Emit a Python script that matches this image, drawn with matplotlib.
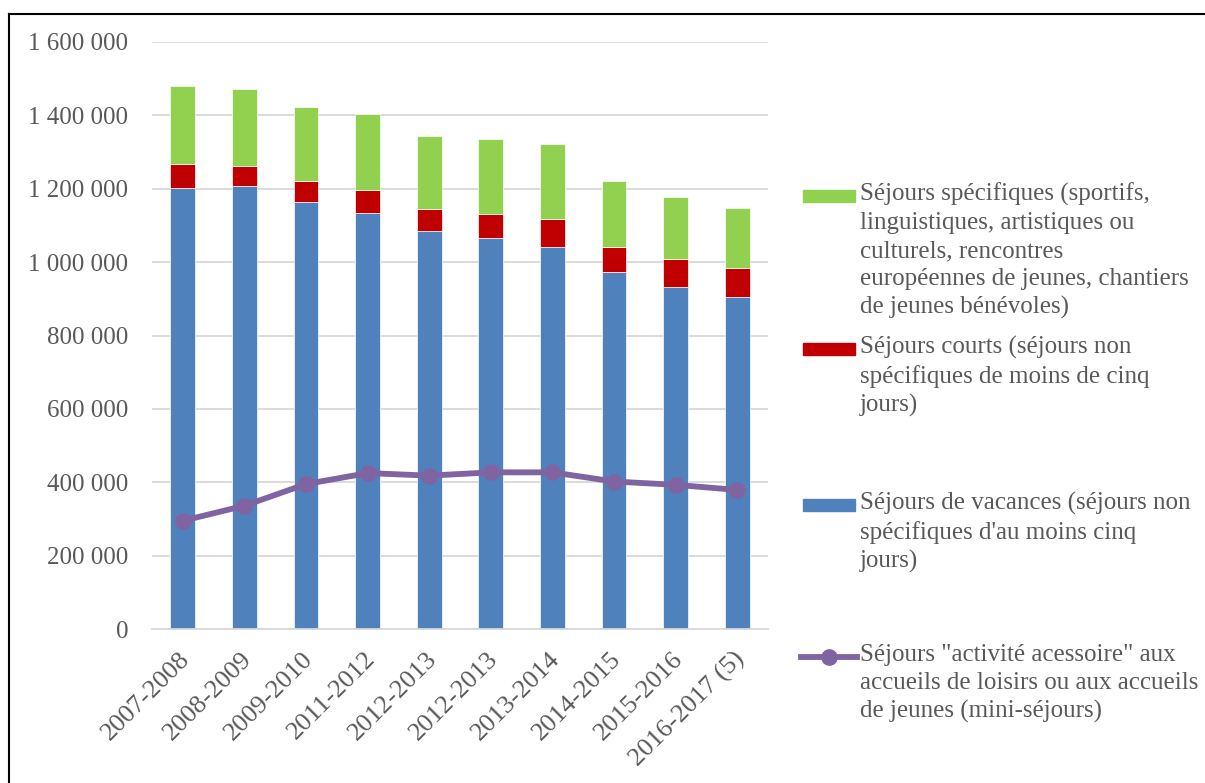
import numpy as np
import matplotlib
matplotlib.use("Agg")
import matplotlib.pyplot as plt
from matplotlib.lines import Line2D
from matplotlib.patches import Rectangle
from matplotlib.ticker import FuncFormatter
import matplotlib.transforms as mtransforms

plt.rcParams['font.family'] = ['Liberation Serif', 'DejaVu Serif']

# school years (x axis)
saisons = ["2007-2008", "2008-2009", "2009-2010", "2011-2012", "2012-2013",
           "2012-2013", "2013-2014", "2014-2015", "2015-2016", "2016-2017 (5)"]

# stacked bars
vacances = [1202000, 1207000, 1164000, 1135000, 1084000, 1065000, 1042000, 973000, 933000, 906000]
courts = [66000, 56000, 56000, 62000, 60000, 67000, 76000, 69000, 76000, 79000]
specifiques = [212000, 209000, 202000, 208000, 199000, 204000, 205000, 179000, 168000, 163000]
# line
mini_sejours = [295000, 336000, 395000, 425000, 418000, 427000, 427000, 402000, 393000, 379000]

lab_spec = ("Séjours spécifiques (sportifs,\nlinguistiques, artistiques ou\nculturels, rencontres\n"
            "européennes de jeunes, chantiers\nde jeunes bénévoles)")
lab_courts = "Séjours courts (séjours non\nspécifiques de moins de cinq\njours)"
lab_vac = "Séjours de vacances (séjours non\nspécifiques d'au moins cinq\njours)"
lab_mini = 'Séjours "activité acessoire" aux\naccueils de loisirs ou aux accueils\nde jeunes (mini-séjours)'

BLUE = "#4F81BD"
RED = "#C00000"
GREEN = "#92D050"
PURPLE = "#8064A2"
GREY = "#595959"
GRID = "#D9D9D9"

W, H = 1205, 783
fig = plt.figure(figsize=(W / 100, H / 100), dpi=100)
ax = fig.add_axes([152 / W, 1 - 629 / H, (768 - 152) / W, (629 - 42) / H])

x = np.arange(len(saisons))
v = np.array(vacances)
c = np.array(courts)
s = np.array(specifiques)
ax.bar(x, v, 0.4, color=BLUE, edgecolor="white", linewidth=0.5, zorder=2)
ax.bar(x, c, 0.4, bottom=v, color=RED, edgecolor="white", linewidth=0.5, zorder=2)
ax.bar(x, s, 0.4, bottom=v + c, color=GREEN, edgecolor="white", linewidth=0.5, zorder=2)
ax.plot(x, mini_sejours, color=PURPLE, lw=4.2, marker="o", ms=11, zorder=3)

ax.set_xlim(-0.5, len(saisons) - 0.5)
ax.set_ylim(0, 1600000)
ax.set_yticks(np.arange(0, 1600001, 200000))
ax.yaxis.set_major_formatter(FuncFormatter(lambda val, p: f"{int(val):,}".replace(",", " ")))
ax.grid(axis="y", color=GRID, lw=1.3, zorder=0)
ax.set_axisbelow(True)
for sp in ["top", "right", "left"]:
    ax.spines[sp].set_visible(False)
ax.spines["bottom"].set_color(GRID)
ax.spines["bottom"].set_linewidth(1.3)
ax.tick_params(axis="both", length=0, labelsize=18, labelcolor=GREY)
ax.tick_params(axis="y", pad=17)
ax.set_xticks(x)
ax.set_xticklabels(saisons, rotation=45, ha="right", va="center", rotation_mode="anchor", fontsize=19)
ax.tick_params(axis="x", pad=19)
offset = mtransforms.ScaledTranslation(4 / 100, 0, fig.dpi_scale_trans)
for lbl in ax.get_xticklabels():
    lbl.set_transform(lbl.get_transform() + offset)

# legend drawn by hand on the right
def fx(px):
    return px / W

def fy(py):
    return 1 - py / H

LFS = 18
LSP = 1.34
entries = [(lab_spec, GREEN, 196), (lab_courts, RED, 349), (lab_vac, BLUE, 505)]
for lab, col, yc in entries:
    fig.add_artist(Rectangle((fx(803), fy(yc + 6)), fx(855) - fx(803), 12 / H,
                             color=col, transform=fig.transFigure))
    fig.text(fx(860), fy(yc - 13), lab, va="top", ha="left", fontsize=LFS,
             color=GREY, linespacing=LSP)
fig.add_artist(Line2D([fx(801), fx(857)], [fy(657), fy(657)], color=PURPLE, lw=4.2,
                      transform=fig.transFigure))
fig.add_artist(Line2D([fx(829)], [fy(657)], color=PURPLE, marker="o", ms=11,
                      transform=fig.transFigure))
fig.text(fx(860), fy(657 - 13), lab_mini, va="top", ha="left", fontsize=LFS,
         color=GREY, linespacing=LSP)

# outer frame (left and top only visible)
fig.add_artist(Line2D([fx(8.5), fx(8.5)], [0, fy(13.5)], color="black", lw=1.5,
                      transform=fig.transFigure))
fig.add_artist(Line2D([fx(8.5), 1], [fy(13.5), fy(13.5)], color="black", lw=1.5,
                      transform=fig.transFigure))

fig.savefig("out.png", dpi=100)
